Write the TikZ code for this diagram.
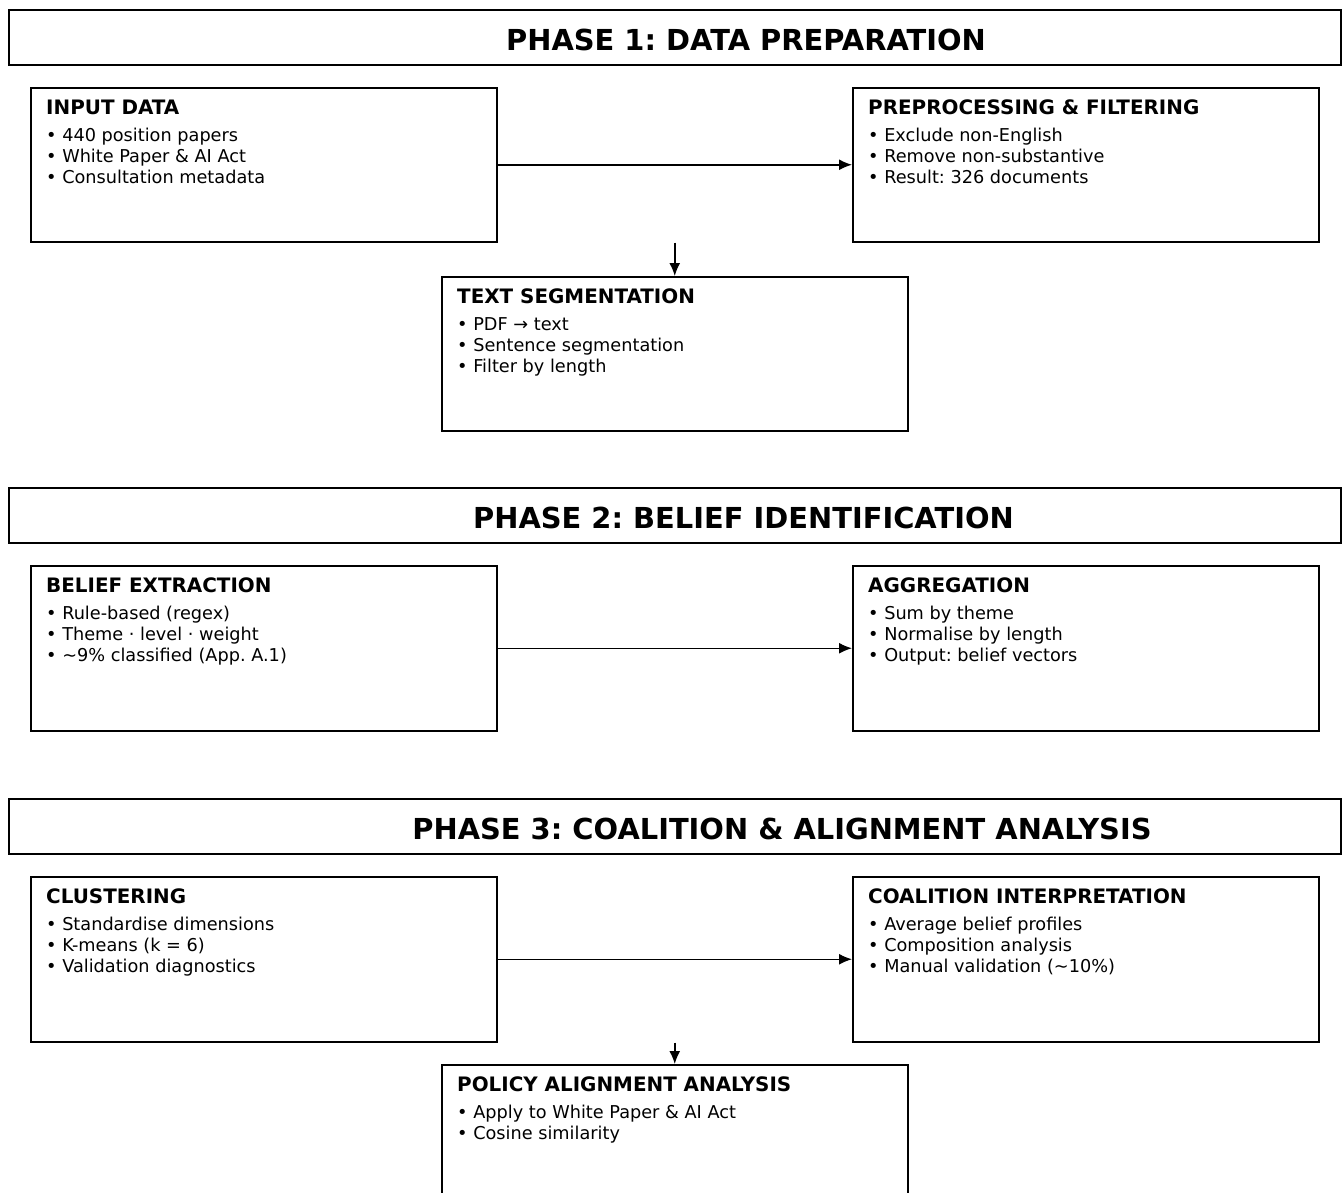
\documentclass[tikz,border=0pt]{standalone}
\usepackage{fontspec}
\setmainfont{DejaVu Sans}
\usetikzlibrary{arrows.meta,positioning}
\frenchspacing

\begin{document}
\begin{tikzpicture}[x=1pt,y=-1pt,
  banner/.style={draw,line width=1.5pt,minimum width=1332pt,minimum height=55pt,anchor=north west,inner sep=0pt},
  stage/.style={draw,line width=1.5pt,minimum width=466pt,anchor=north west,inner sep=0pt},
  phasetext/.style={font=\fontsize{28.9}{34}\selectfont\bfseries,anchor=base,inner sep=0pt},
  head/.style={font=\fontsize{19.9}{23}\selectfont\bfseries,anchor=base west,inner sep=0pt},
  items/.style={font=\fontsize{17.7}{21}\selectfont,align=left,anchor=base west,inner sep=0pt},
  flow/.style={-{Latex[length=13pt,width=11pt]},line width=1.5pt}]
\clip (0,0) rectangle (1343,1192);

% phase 1
\node[banner] (ph1) at (8,9) {};
\node[phasetext] (ph1T) at (746,50) {PHASE 1: DATA PREPARATION};

\node[stage,minimum height=154pt] (inp) at (30,87) {};
\node[head] (inpH) at ([xshift=16pt,yshift=-27pt]inp.north west) {INPUT DATA};
\node[items] (inpL) at ([yshift=-69pt]inpH.base west) {• 440 position papers\\• White Paper \& AI Act\\• Consultation metadata};

\node[stage,minimum height=154pt] (pre) at (852,87) {};
\node[head] (preH) at ([xshift=16pt,yshift=-27pt]pre.north west) {PREPROCESSING \& FILTERING};
\node[items] (preL) at ([yshift=-69pt]preH.base west) {• Exclude non-English\\• Remove non-substantive\\• Result: 326 documents};

\node[stage,minimum height=154pt] (seg) at (441,276) {};
\node[head] (segH) at ([xshift=16pt,yshift=-27pt]seg.north west) {TEXT SEGMENTATION};
\node[items] (segL) at ([yshift=-69pt]segH.base west) {• PDF → text\\• Sentence segmentation\\• Filter by length};

\draw[flow] (inp.east) -- (pre.west);
\coordinate (d1) at (seg.north |- inp.south);
\draw[flow] (d1) -- (seg.north);

% phase 2
\node[banner] (ph2) at (8,487) {};
\node[phasetext] (ph2T) at (743.5,528) {PHASE 2: BELIEF IDENTIFICATION};

\node[stage,minimum height=165pt] (ext) at (30,565) {};
\node[head] (extH) at ([xshift=16pt,yshift=-27pt]ext.north west) {BELIEF EXTRACTION};
\node[items] (extL) at ([yshift=-69pt]extH.base west) {• Rule-based (regex)\\• Theme · level · weight\\• \textasciitilde9\% classified (App. A.1)};

\node[stage,minimum height=165pt] (agg) at (852,565) {};
\node[head] (aggH) at ([xshift=16pt,yshift=-27pt]agg.north west) {AGGREGATION};
\node[items] (aggL) at ([yshift=-69pt]aggH.base west) {• Sum by theme\\• Normalise by length\\• Output: belief vectors};

\draw[flow] (ext.east) -- (agg.west);

% phase 3
\node[banner] (ph3) at (8,798) {};
\node[phasetext] (ph3T) at (782,839) {PHASE 3: COALITION \& ALIGNMENT ANALYSIS};

\node[stage,minimum height=165pt] (clu) at (30,876) {};
\node[head] (cluH) at ([xshift=16pt,yshift=-27pt]clu.north west) {CLUSTERING};
\node[items] (cluL) at ([yshift=-69pt]cluH.base west) {• Standardise dimensions\\• K-means (k = 6)\\• Validation diagnostics};

\node[stage,minimum height=165pt] (coa) at (852,876) {};
\node[head] (coaH) at ([xshift=16pt,yshift=-27pt]coa.north west) {COALITION INTERPRETATION};
\node[items] (coaL) at ([yshift=-69pt]coaH.base west) {• Average belief profiles\\• Composition analysis\\• Manual validation (\textasciitilde10\%)};

\node[stage,minimum height=165pt] (pol) at (441,1064) {};
\node[head] (polH) at ([xshift=16pt,yshift=-27pt]pol.north west) {POLICY ALIGNMENT ANALYSIS};
\node[items] (polL) at ([yshift=-48pt]polH.base west) {• Apply to White Paper \& AI Act\\• Cosine similarity};

\draw[flow] (clu.east) -- (coa.west);
\coordinate (d2) at (pol.north |- clu.south);
\draw[flow] (d2) -- (pol.north);
\end{tikzpicture}
\end{document}
